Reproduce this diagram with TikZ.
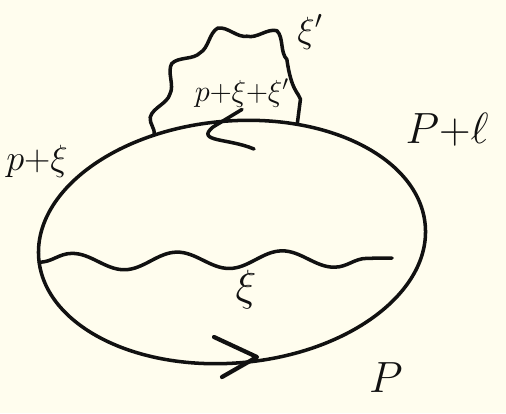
\documentclass[tikz,border=0pt]{standalone}
\usepackage{amsmath,amssymb}
\usepackage{xcolor}
\usepackage{tikz}
\usetikzlibrary{arrows.meta,positioning,shapes.geometric,decorations.pathmorphing,calc}
\definecolor{paper}{HTML}{FFFDEE}
\definecolor{ink}{HTML}{111111}
\tikzset{
  pen/.style={draw=ink, line width=2pt, line cap=round, line join=round},
  fermionloop/.style={ellipse, pen, inner sep=0pt, outer sep=0pt, minimum width=7.76cm, minimum height=4.84cm, rotate=5},
  photon/.style={pen, decorate, decoration={snake, segment length=2.1cm, amplitude=0.17cm}},
  gluon/.style={pen, decorate, decoration={snake, segment length=1.1cm, amplitude=0.13cm}},
  momlabel/.style={font=\fontsize{22}{24}\selectfont, inner sep=1pt, text=ink},
  biglabel/.style={font=\fontsize{34}{36}\selectfont, inner sep=1pt, text=ink},
  smalllabel/.style={font=\fontsize{17}{19}\selectfont, inner sep=1pt, text=ink}
}

\begin{document}
\begin{tikzpicture}[x=0.02cm, y=-0.02cm]
  \fill[paper] (0,0) rectangle (506,413);
  \useasboundingbox (0,0) rectangle (506,413);

  % the fermion loop
  \node[fermionloop] (loop) at (232,242) {};

  % vertices and free ends
  \coordinate (vleft) at (loop.181);
  \coordinate (vtopl) at (loop.121);
  \coordinate (vtopr) at (loop.56);
  \coordinate (wend) at (392,258);
  \coordinate (hook) at (213,127);
  \coordinate (tail) at (254,149);
  \coordinate (tip) at (257,357);

  % arrow on the bottom of the loop
  \draw[pen, line width=2.4pt] (214,337) -- (tip) -- (222,377);

  % exchanged photons
  \draw[photon] (vleft) -- (wend);
  \draw[gluon] (vtopl) .. controls (170,20) and (315,10) .. (vtopr);

  % momentum labels
  \node[momlabel] (pxi) at (37,161) {$p{+}\xi$};
  \node[biglabel] (pl) at (447,130) {$P{+}\ell$};
  \node[momlabel, font=\fontsize{24}{26}\selectfont] (xi) at (246,290) {$\xi$};
  \node[biglabel, font=\fontsize{40}{42}\selectfont] (pP) at (386,378) {$P$};
  \node[momlabel] (xip) at (310,32) {$\xi'$};
  \node[smalllabel] (inner) at (242,93) {$p{+}\xi{+}\xi'$};

  % pointer from the inner label
  \draw[pen] (inner.south) -- (hook) .. controls (195,142) and (228,138) .. (tail);
\end{tikzpicture}
\end{document}
